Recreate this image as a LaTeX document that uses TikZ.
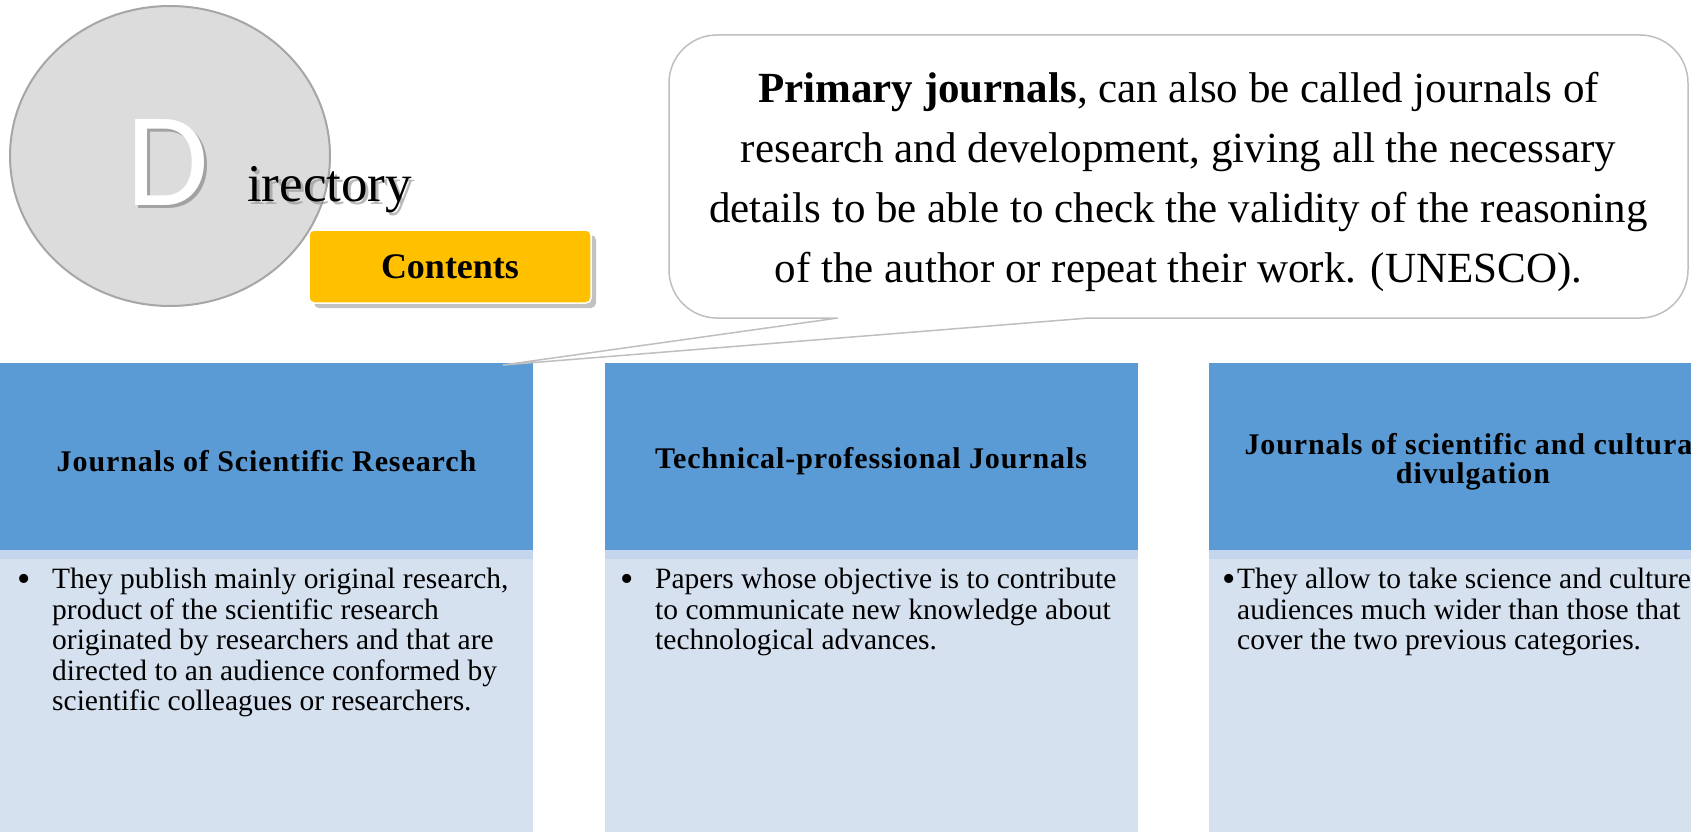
\documentclass[tikz,border=0pt]{standalone}
\usepackage{fontspec}
\setmainfont{Liberation Serif}
\newfontfamily\dfont{Carlito}
\newfontfamily\hdrfont[LetterSpace=3]{Liberation Serif}
\usetikzlibrary{shadows,shapes.geometric}
\definecolor{hdr}{RGB}{91,155,213}
\definecolor{bdy}{RGB}{214,225,240}
\definecolor{band}{RGB}{196,214,237}
\definecolor{gold}{RGB}{255,192,0}
\definecolor{circfill}{RGB}{220,220,220}
\definecolor{circline}{RGB}{166,166,166}
\definecolor{callline}{RGB}{191,191,191}
\tikzset{
  hdrbox/.style={fill=hdr, minimum width=533pt, minimum height=187pt, inner sep=0pt, outer sep=0pt},
  bandbox/.style={fill=band, minimum width=533pt, minimum height=9pt, inner sep=0pt, outer sep=0pt},
  bdybox/.style={fill=bdy, minimum width=533pt, minimum height=273pt, inner sep=0pt, outer sep=0pt},
  hdrtext/.style={font=\hdrfont\bfseries\fontsize{30}{29}\selectfont, align=center, inner sep=0pt},
  bodytext/.style={font=\fontsize{29.5}{30.5}\selectfont, align=left, anchor=north west, inner sep=0pt},
  bullettext/.style={font=\fontsize{38}{38}\selectfont, anchor=base west, inner sep=0pt},
}
\begin{document}
\begin{tikzpicture}[x=1pt,y=-1pt]
\useasboundingbox (0,0) rectangle (1691,832);
\clip (0,0) rectangle (1691,832);
% circle
\node[ellipse, draw=circline, fill=circfill, line width=2pt, minimum width=320pt, minimum height=300pt, inner sep=0pt] (circ) at (170,156) {};
% D
\node[anchor=base west, text=black!55, opacity=.55, inner sep=0pt, font=\dfont\fontsize{134}{134}\selectfont] (dshadow) at (129,208) {D};
\node[anchor=base west, text=white, inner sep=0pt, font=\dfont\fontsize{134}{134}\selectfont] (dletter) at (126,205) {D};
% irectory
\node[anchor=base west, text=black!45, opacity=.6, inner sep=0pt, font=\fontsize{53}{53}\selectfont] (irshadow) at (250,204) {irectory};
\node[anchor=base west, text=black, inner sep=0pt, font=\fontsize{53}{53}\selectfont] (ir) at (247,201) {irectory};
% Contents
\node[rounded corners=5pt, fill=gold, draw=white, line width=1.5pt,
      drop shadow={shadow xshift=5pt, shadow yshift=-5pt, opacity=.4, fill=black!60},
      minimum width=282pt, minimum height=73pt, inner sep=0pt,
      font=\bfseries\fontsize{36}{36}\selectfont] (cont) at (450,266.5) {Contents};
% columns
\foreach \cx/\nm in {266.5/a, 871/b, 1475.5/c}{
  \node[hdrbox] (h\nm) at (\cx,456.5) {};
  \node[bandbox] (s\nm) at (\cx,554.5) {};
  \node[bdybox] (d\nm) at (\cx,695.5) {};
}
\node[hdrtext] (ta) at (266.5,461) {Journals of Scientific Research};
\node[hdrtext] (tb) at (871,461) {Technical-professional Journals};
\node[hdrtext] (tc) at (1473,462) {Journals of scientific and cultural\\divulgation};
% body texts
\node[bullettext] (ua) at (17,591) {•};
\node[bodytext] (ba) at (52,568) {They publish mainly original research,\\product of the scientific research\\originated by researchers and that are\\directed to an audience conformed by\\scientific colleagues or researchers.};
\node[bullettext] (ub) at (620,591) {•};
\node[bodytext] (bb) at (655,568) {Papers whose objective is to contribute\\to communicate new knowledge about\\technological advances.};
\node[bullettext] (uc) at (1222,591) {•};
\node[bodytext] (bc) at (1237,568) {They allow to take science and culture\\audiences much wider than those that\\cover the two previous categories.};
% callout
\draw[draw=callline, fill=white, line width=1.5pt]
  (1200,35) [rounded corners=48pt] -- (669,35) -- (669,318)
  [sharp corners] -- (838,318) -- (503,365) -- (1089,318)
  [rounded corners=48pt] -- (1688,318) -- (1688,35) -- cycle;
\node[align=center, inner sep=0pt, font=\fontsize{43}{60}\selectfont] (call) at (1178.5,182)
  {\textbf{Primary journals}, can also be called journals of\\research and development, giving all the necessary\\details to be able to check the validity of the reasoning\\of the author or repeat their work. (UNESCO).};
\end{tikzpicture}
\end{document}
